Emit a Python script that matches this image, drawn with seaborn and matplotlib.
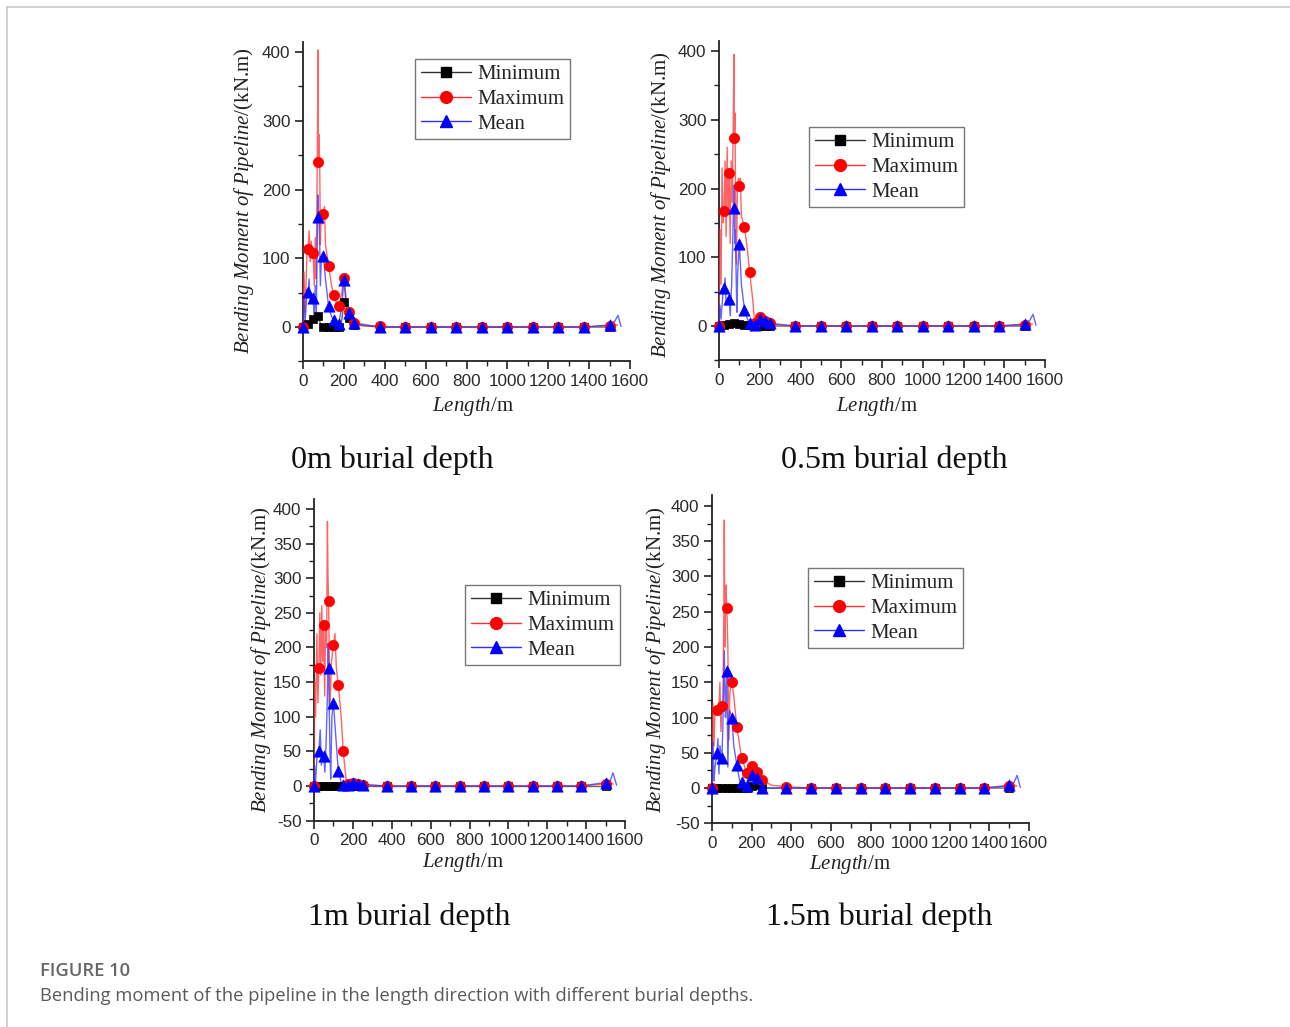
import numpy as np
import matplotlib
matplotlib.use("Agg")
import matplotlib.pyplot as plt
from matplotlib.lines import Line2D
from matplotlib.ticker import MultipleLocator
import seaborn as sns

sns.set_theme(style="ticks")
plt.rcParams.update({
    "font.family": ["Liberation Sans", "DejaVu Sans"],
    "mathtext.fontset": "custom",
    "mathtext.rm": "Liberation Serif",
    "mathtext.it": "Liberation Serif:italic",
    "axes.unicode_minus": False,
})

# ---------------- data ----------------
MARK_X = [0, 25, 50, 75, 100, 125, 150, 175, 200, 225, 250,
          375, 500, 625, 750, 875, 1000, 1125, 1250, 1375, 1500]

# 0 m burial depth
P1_MIN_MK = [0, 5, 12, 16, 0, 0, 0, 0, 37, 13, 3, 0, 0, 0, 0, 0, 0, 0, 0, 0, 0]
P1_MIN_PK_X = [40, 60, 85, 190, 212]
P1_MIN_PK_Y = [9, 13, 5, 10, 15]
P1_MAX_MK = [0, 114, 108, 240, 164, 89, 46, 31, 71, 22, 6, 1, 0, 0, 0, 0, 0, 0, 0, 0, 2]
P1_MAX_PK_X = [5, 10, 20, 30, 35, 40, 45, 55, 60, 65, 70, 73, 78, 82, 85, 90, 95, 105, 110, 140, 165, 190, 212, 240, 300, 1540]
P1_MAX_PK_Y = [80, 20, 110, 140, 95, 125, 100, 60, 130, 70, 250, 403, 280, 230, 120, 170, 150, 175, 120, 60, 35, 50, 40, 10, 2, 3]
P1_MEAN_MK = [0, 51, 42, 160, 103, 30, 10, 5, 69, 20, 6, 0, 0, 0, 0, 0, 0, 0, 0, 0, 3]
P1_MEAN_PK_X = [5, 10, 20, 30, 35, 45, 55, 60, 65, 70, 73, 78, 82, 85, 90, 110, 140, 190, 212, 240, 1525, 1541, 1556]
P1_MEAN_PK_Y = [40, 5, 55, 70, 35, 45, 10, 60, 20, 130, 192, 165, 120, 60, 100, 70, 15, 30, 30, 8, 8, 17, 1]

# 0.5 m burial depth
P2_MIN_MK = [0, 2, 3, 4, 3, 2, 1, 0, 0, 0, 0, 0, 0, 0, 0, 0, 0, 0, 0, 0, 0]
P2_MIN_PK_X = []
P2_MIN_PK_Y = []
P2_MAX_MK = [0, 167, 222, 273, 203, 144, 79, 5, 13, 7, 4, 0, 0, 0, 0, 0, 0, 0, 0, 0, 2]
P2_MAX_PK_X = [5, 10, 15, 20, 30, 35, 40, 45, 55, 60, 65, 70, 73, 78, 82, 86, 90, 95, 105, 110, 140, 165, 185, 300, 1540]
P2_MAX_PK_Y = [140, 60, 230, 150, 240, 130, 260, 170, 120, 240, 180, 300, 395, 310, 170, 90, 200, 215, 215, 160, 110, 40, 5, 1, 3]
P2_MEAN_MK = [0, 55, 39, 171, 120, 24, 5, 2, 10, 7, 4, 0, 0, 0, 0, 0, 0, 0, 0, 0, 3]
P2_MEAN_PK_X = [5, 10, 20, 30, 35, 45, 55, 62, 68, 73, 78, 80, 85, 88, 92, 110, 140, 1525, 1541, 1556]
P2_MEAN_PK_Y = [30, 10, 50, 70, 30, 40, 15, 60, 130, 205, 120, 140, 60, 20, 80, 60, 10, 8, 17, 1]

# 1 m burial depth
P3_MIN_MK = [0] * 21
P3_MIN_PK_X = []
P3_MIN_PK_Y = []
P3_MAX_MK = [0, 170, 232, 267, 204, 146, 51, 3, 4, 3, 2, 0, 0, 0, 0, 0, 0, 0, 0, 0, 3]
P3_MAX_PK_X = [3, 8, 15, 20, 30, 35, 40, 45, 55, 60, 65, 69, 72, 82, 90, 108, 115, 140, 165, 300, 1540]
P3_MAX_PK_Y = [150, 100, 220, 120, 250, 160, 260, 180, 130, 230, 200, 382, 302, 110, 180, 220, 170, 100, 10, 1, 3]
P3_MEAN_MK = [0, 51, 43, 170, 120, 22, 2, 2, 5, 3, 2, 0, 0, 0, 0, 0, 0, 0, 0, 0, 5]
P3_MEAN_PK_X = [3, 8, 15, 32, 38, 45, 56, 62, 68, 73, 82, 86, 92, 110, 140, 1525, 1538, 1557]
P3_MEAN_PK_Y = [30, 5, 40, 81, 30, 45, 20, 60, 120, 206, 50, 10, 100, 80, 5, 8, 19, 1]

# 1.5 m burial depth
P4_MIN_MK = [0, 0, 0, 0, 0, 0, 0, 0, 3, 5, 0, 0, 0, 0, 0, 0, 0, 0, 0, 0, 0]
P4_MIN_PK_X = []
P4_MIN_PK_Y = []
P4_MAX_MK = [0, 110, 116, 256, 151, 87, 42, 21, 31, 23, 12, 2, 0, 0, 0, 0, 0, 0, 0, 0, 3]
P4_MAX_PK_X = [5, 10, 15, 35, 40, 45, 55, 60, 62, 65, 70, 80, 85, 90, 110, 140, 165, 300, 1540]
P4_MAX_PK_Y = [120, 60, 110, 114, 150, 80, 120, 250, 380, 200, 288, 200, 68, 135, 130, 60, 30, 4, 3]
P4_MEAN_MK = [0, 49, 42, 166, 99, 33, 8, 3, 18, 14, 0, 0, 0, 0, 0, 0, 0, 0, 0, 0, 4]
P4_MEAN_PK_X = [5, 10, 15, 30, 35, 40, 55, 62, 68, 72, 80, 85, 90, 110, 140, 1525, 1540, 1556]
P4_MEAN_PK_Y = [65, 10, 30, 70, 20, 60, 90, 195, 100, 140, 30, 100, 110, 60, 10, 8, 18, 1]

SERIES = ["Minimum", "Maximum", "Mean"]
CAPTIONS = ["0m burial depth", "0.5m burial depth", "1m burial depth", "1.5m burial depth"]
X_TICKS = [0, 200, 400, 600, 800, 1000, 1200, 1400, 1600]

# ---------------- layout ----------------
W, H = 1290, 1027
fig = plt.figure(figsize=(W / 100, H / 100), dpi=100)
fig.patch.set_facecolor("white")

def fx(x):
    return x / W

def fy(y):
    return 1 - y / H

# frame lines of the page
fig.add_artist(Line2D([fx(7), fx(1290)], [fy(7), fy(7)], color="#c8c8c8", lw=1.2))
fig.add_artist(Line2D([fx(7), fx(7)], [fy(7), fy(1027)], color="#c8c8c8", lw=1.2))

panels = [
    dict(box=(303, 630, 41.7, 361.4), ylim=(-50, 415), minor=50, yticks=[0, 100, 200, 300, 400],
         leg=(415, 59), ylab=(244, 201), xlab=(473, 407), cap=(392, 460),
         data=[(P1_MIN_MK, P1_MIN_PK_X, P1_MIN_PK_Y), (P1_MAX_MK, P1_MAX_PK_X, P1_MAX_PK_Y), (P1_MEAN_MK, P1_MEAN_PK_X, P1_MEAN_PK_Y)]),
    dict(box=(719, 1045, 40.7, 360.4), ylim=(-50, 415), minor=50, yticks=[0, 100, 200, 300, 400],
         leg=(809, 127), ylab=(661, 205), xlab=(877, 407), cap=(894, 460),
         data=[(P2_MIN_MK, P2_MIN_PK_X, P2_MIN_PK_Y), (P2_MAX_MK, P2_MAX_PK_X, P2_MAX_PK_Y), (P2_MEAN_MK, P2_MEAN_PK_X, P2_MEAN_PK_Y)]),
    dict(box=(314, 625, 498.6, 820.6), ylim=(-50, 415), minor=25, yticks=list(range(-50, 401, 50)),
         leg=(465, 585), ylab=(261, 660), xlab=(463, 862), cap=(409, 917),
         data=[(P3_MIN_MK, P3_MIN_PK_X, P3_MIN_PK_Y), (P3_MAX_MK, P3_MAX_PK_X, P3_MAX_PK_Y), (P3_MEAN_MK, P3_MEAN_PK_X, P3_MEAN_PK_Y)]),
    dict(box=(712, 1029, 495.4, 823.3), ylim=(-50, 415), minor=25, yticks=list(range(-50, 401, 50)),
         leg=(808, 568), ylab=(656, 660), xlab=(850, 865), cap=(879, 917),
         data=[(P4_MIN_MK, P4_MIN_PK_X, P4_MIN_PK_Y), (P4_MAX_MK, P4_MAX_PK_X, P4_MAX_PK_Y), (P4_MEAN_MK, P4_MEAN_PK_X, P4_MEAN_PK_Y)]),
]

colors = ["#000000", "#ff0000", "#0000ff"]
line_colors = ["#333333", "#ff3030", "#3030ff"]
markers = ["s", "o", "^"]
msizes = [32, 55, 66]

for i, p in enumerate(panels):
    l, r, t, b = p["box"]
    ax = fig.add_axes([fx(l), fy(b), (r - l) / W, (b - t) / H])
    ax.set_facecolor("none")
    for k, (mk, pkx, pky) in enumerate(p["data"]):
        pts = sorted(zip(MARK_X + list(pkx), list(mk) + list(pky)))
        lx = [q[0] for q in pts]
        ly = [q[1] for q in pts]
        sns.lineplot(x=lx, y=ly, ax=ax, color=line_colors[k], lw=1.0, alpha=0.75,
                     sort=False, estimator=None, legend=False, zorder=2 + k)
        sns.scatterplot(x=MARK_X, y=mk, ax=ax, marker=markers[k], s=msizes[k],
                        color=colors[k], edgecolor=colors[k], linewidth=0.5,
                        legend=False, zorder=5 + k, clip_on=False)
    ax.set_xlim(0, 1600)
    ax.set_ylim(*p["ylim"])
    ax.set_xticks(X_TICKS)
    ax.set_yticks(p["yticks"])
    ax.xaxis.set_minor_locator(MultipleLocator(100))
    ax.yaxis.set_minor_locator(MultipleLocator(p["minor"]))
    sns.despine(ax=ax)
    for s in ["left", "bottom"]:
        ax.spines[s].set_linewidth(1.3)
        ax.spines[s].set_color("#222222")
    ax.tick_params(which="major", direction="out", length=6, width=1.2, color="#222222",
                   labelsize=12.3, labelcolor="#2a2a2a", pad=3)
    ax.tick_params(which="minor", direction="out", length=3.5, width=1.0, color="#222222")
    for lab in ax.get_xticklabels() + ax.get_yticklabels():
        lab.set_fontfamily("Liberation Sans")
    ax.set_xlabel("")
    ax.set_ylabel("")

    # axis labels
    fig.text(fx(p["ylab"][0]), fy(p["ylab"][1]),
             r"$\mathit{Bending\ Moment\ of\ Pipeline}$/(kN.m)",
             rotation=90, ha="center", va="center", fontsize=15,
             family="Liberation Serif", color="#222222")
    fig.text(fx(p["xlab"][0]), fy(p["xlab"][1]), r"$\mathit{Length}$/m",
             ha="center", va="center", fontsize=15, family="Liberation Serif", color="#222222")
    fig.text(fx(p["cap"][0]), fy(p["cap"][1]), CAPTIONS[i],
             ha="center", va="center", fontsize=23, family="Liberation Serif", color="#111111")

    handles = [Line2D([], [], color=line_colors[k], lw=1.0, marker=markers[k],
                      markersize=[6.5, 8.5, 9][k], markerfacecolor=colors[k],
                      markeredgecolor=colors[k]) for k in range(3)]
    leg = ax.legend(handles, SERIES, loc="upper left",
                    bbox_to_anchor=(fx(p["leg"][0]), fy(p["leg"][1])),
                    bbox_transform=fig.transFigure, borderaxespad=0,
                    frameon=True, fancybox=False, framealpha=1, edgecolor="#777777",
                    prop={"family": "Liberation Serif", "size": 15},
                    handlelength=2.4, handletextpad=0.3, labelspacing=0.24,
                    borderpad=0.28)
    leg.get_frame().set_linewidth(1.0)

fig.text(fx(40), fy(971), "FIGURE 10", ha="left", va="center", fontsize=13.2,
         family="Open Sans", weight="semibold", color="#666666")
fig.text(fx(40), fy(996),
         "Bending moment of the pipeline in the length direction with different burial depths.",
         ha="left", va="center", fontsize=13.2, family="Open Sans", color="#5a5a5a")

fig.savefig("out.png", dpi=100)
